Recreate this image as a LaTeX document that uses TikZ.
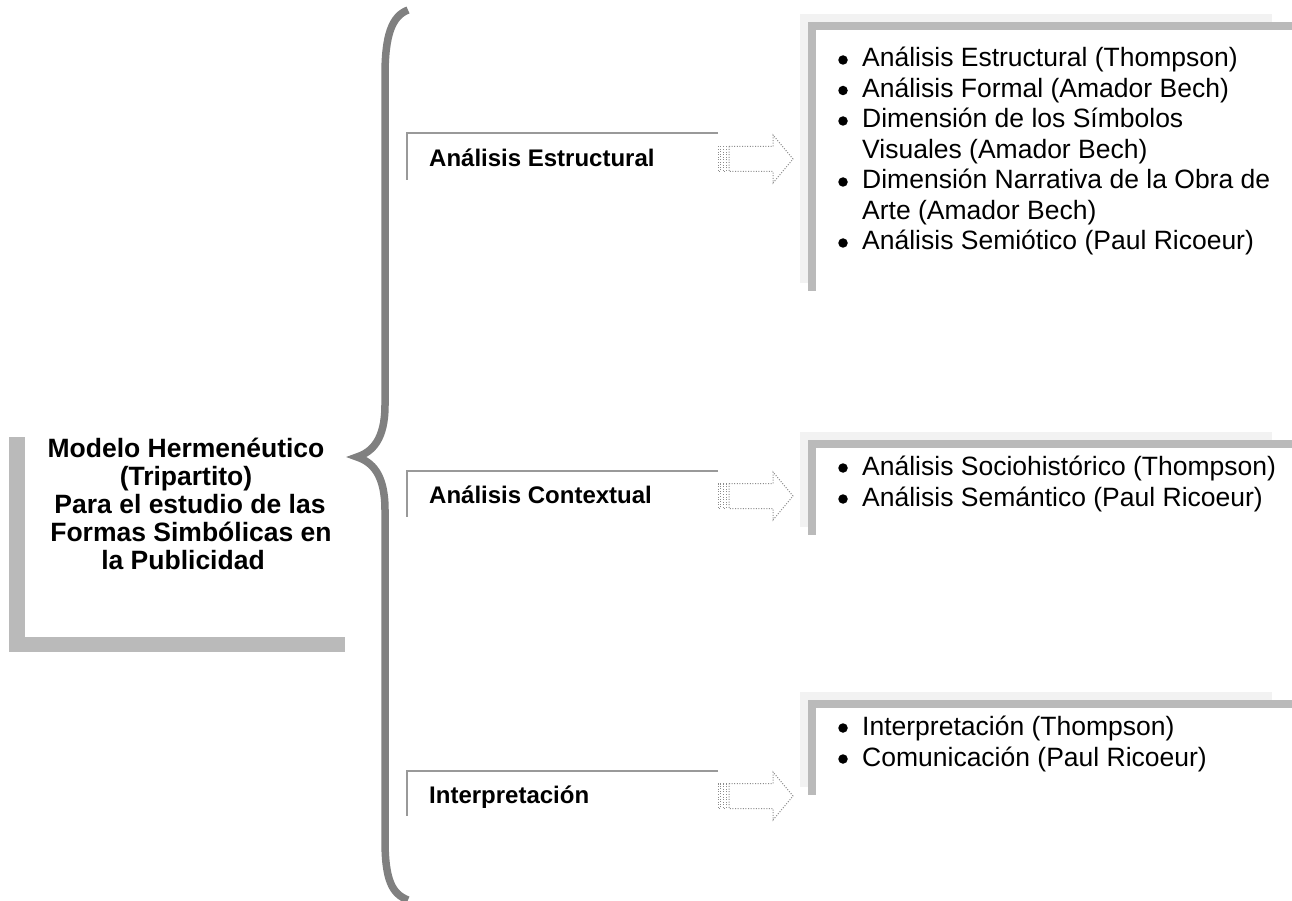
\documentclass[tikz,border=0pt]{standalone}
\usepackage{fontspec}
\setmainfont{Liberation Sans}
\definecolor{lightg}{HTML}{F2F2F2}
\definecolor{darkg}{HTML}{BABABA}
\definecolor{braceg}{HTML}{808080}
\definecolor{lblg}{HTML}{999999}
\definecolor{arrg}{HTML}{8C8C8C}
\newcommand\myrbox[2]{%
  \fill[lightg] (800,#1) rectangle (1272,#2);
  \fill[white] (808,#1+8) rectangle (1292,#2+8);
  \fill[darkg] (808,#1+8) rectangle (1292,#1+16);
  \fill[darkg] (808,#1+8) rectangle (816,#2+8);
}
\newcommand\myarrow[1]{%
  \draw[arrdot] (718,#1-12.5) rectangle (720.5,#1+12.5);
  \draw[arrdot] (723,#1-12.5) rectangle (726,#1+12.5);
  \draw[arrdot] (729,#1-12.5) -- (773,#1-12.5) -- (773,#1-24) -- (793,#1)
     -- (773,#1+24) -- (773,#1+12.5) -- (729,#1+12.5) -- cycle;
}
\begin{document}
\begin{tikzpicture}[x=1pt,y=-1pt,
  body/.style={anchor=base west, inner sep=0pt, font=\fontsize{26.5}{30}\selectfont},
  lbl/.style={anchor=base west, inner sep=0pt, font=\fontsize{24}{28}\selectfont\bfseries},
  ttl/.style={anchor=base, inner sep=0pt, font=\fontsize{26.5}{28}\selectfont\bfseries},
  bul/.style={circle, fill=black, inner sep=0pt, minimum size=9.5pt},
  frameline/.style={draw=lblg, line width=2pt},
  arrdot/.style={draw=arrg, line width=1pt, dash pattern=on 1pt off 1.6pt},
  bracestyle/.style={draw=braceg, line width=7.5pt}]
\useasboundingbox (0,0) rectangle (1292,901);
\fill[white] (0,0) rectangle (1292,901);

% left title frame
\fill[darkg] (9,437) rectangle (25,652);
\fill[darkg] (9,637) rectangle (345,652);
\node[ttl] (t1) at (186,457) {Modelo Hermenéutico};
\node[ttl] (t2) at (186,485) {(Tripartito)};
\node[ttl] (t3) at (190,513) {Para el estudio de las};
\node[ttl] (t4) at (191,541) {Formas Simbólicas en};
\node[ttl] (t5) at (183,569) {la Publicidad};

% brace
\draw[bracestyle] (408,10) .. controls (392,16) and (385,35) .. (385,75)
  -- (385,405) .. controls (385,440) and (372,452) .. (357,457)
  .. controls (372,462) and (385,474) .. (385,510)
  -- (385,840) .. controls (385,880) and (392,894) .. (408,900);

% label frames
\draw[frameline] (718,133) -- (407,133) -- (407,180);
\node[lbl] (l1) at (429,167) {Análisis Estructural};
\draw[frameline] (718,471) -- (407,471) -- (407,517);
\node[lbl] (l2) at (429,503) {Análisis Contextual};
\draw[frameline] (718,771) -- (407,771) -- (407,816);
\node[lbl] (l3) at (429,803) {Interpretación};

% arrows
\myarrow{159}
\myarrow{496}
\myarrow{796}

% right boxes
\myrbox{14}{283}
\myrbox{432}{527}
\myrbox{692}{787}

% box 1 text
\node[bul] (b11) at (843,60) {};
\node[body] (a1) at (862,67) {Análisis Estructural (Thompson)};
\node[bul] (b12) at (843,90.5) {};
\node[body] (a2) at (862,97.5) {Análisis Formal (Amador Bech)};
\node[bul] (b13) at (843,121) {};
\node[body] (a3) at (862,128) {Dimensión de los Símbolos};
\node[body] (a4) at (862,158.5) {Visuales (Amador Bech)};
\node[bul] (b14) at (843,182) {};
\node[body] (a5) at (862,189) {Dimensión Narrativa de la Obra de};
\node[body] (a6) at (862,219.5) {Arte (Amador Bech)};
\node[bul] (b15) at (843,243) {};
\node[body] (a7) at (862,250) {Análisis Semiótico (Paul Ricoeur)};

% box 2 text
\node[bul] (b21) at (843,468) {};
\node[body] (c1) at (862,475) {Análisis Sociohistórico (Thompson)};
\node[bul] (b22) at (843,499) {};
\node[body] (c2) at (862,506) {Análisis Semántico (Paul Ricoeur)};

% box 3 text
\node[bul] (b31) at (843,728) {};
\node[body] (d1) at (862,735) {Interpretación (Thompson)};
\node[bul] (b32) at (843,759) {};
\node[body] (d2) at (862,766) {Comunicación (Paul Ricoeur)};
\end{tikzpicture}
\end{document}
